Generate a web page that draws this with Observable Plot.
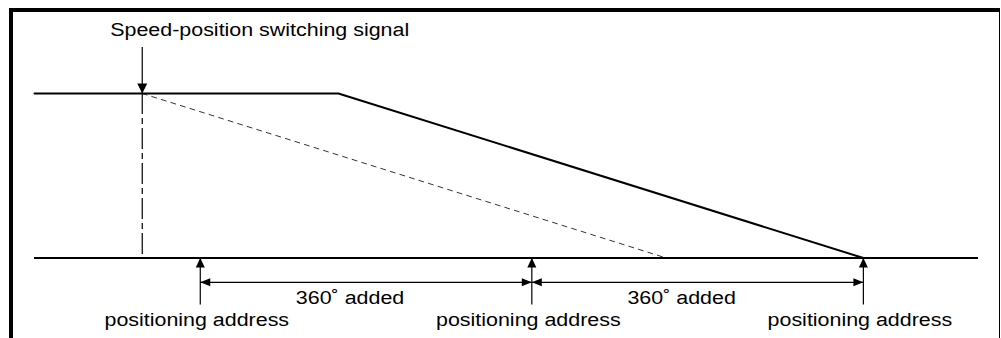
<!DOCTYPE html>
<html><head><meta charset="utf-8">
<script src="https://cdn.jsdelivr.net/npm/d3@7"></script>
<script src="https://cdn.jsdelivr.net/npm/@observablehq/plot@0.6"></script>
<style>
html,body{margin:0;padding:0;background:#fff;overflow:hidden;width:1001px;height:338px;}
#chart{position:absolute;left:0;top:0;}
#frame{position:absolute;left:9px;top:8px;width:991px;height:360px;box-sizing:border-box;border-top:4px solid #000;border-left:4px solid #000;border-right:1px solid #000;pointer-events:none;}
</style></head><body>
<div id="chart"></div><div id="frame"></div>
<script>
// ---- data (positions in degrees of travel, speed in %) ----
const addresses = [0, 360, 720];
const addressLabels = ["positioning address", "positioning address", "positioning address"];
const addedStarts = [0, 360];
const addedEnds = [360, 720];
const addedLabels = ["360\u02DA added", "360\u02DA added"];
const switchingPosition = [-63];
const switchingLabel = ["Speed-position switching signal"];
const profileX = [-180, 150, 720];
const profileSpeed = [100, 100, 0];
const directX = [-63, 506];
const directSpeed = [100, 0];
const positionDomain = [-180, 845];
const speedDomain = [0, 100];

// ---- tables built from the arrays ----
const profile = profileX.map((x, i) => ({x, y: profileSpeed[i]}));
const direct = directX.map((x, i) => ({x, y: directSpeed[i]}));
const spans = addedStarts.map((s, i) => ({s, e: addedEnds[i], label: addedLabels[i], mid: (s + addedEnds[i]) / 2}));
const addr = addresses.map((x, i) => ({x, label: addressLabels[i]}));

// annotation levels (in speed units, layout only)
const SIGNAL_TOP = 128, TITLE_Y = 134.7, DIM_Y = -14.8, ARROW_BOTTOM = -28.5, ADDED_Y = -27.7, LABEL_Y = -41.6;
const TOP = speedDomain[1];

// filled triangle heads with the tip at the anchor point
function head(dir, L = 10, W = 9) {
  return {draw(ctx) {
    ctx.moveTo(0, 0);
    if (dir === "up") { ctx.lineTo(-W / 2, L); ctx.lineTo(W / 2, L); }
    else if (dir === "down") { ctx.lineTo(-W / 2, -L); ctx.lineTo(W / 2, -L); }
    else if (dir === "left") { ctx.lineTo(L, -W / 2); ctx.lineTo(L, W / 2); }
    else { ctx.lineTo(-L, -W / 2); ctx.lineTo(-L, W / 2); }
    ctx.closePath();
  }};
}
const txt = {fontSize: 18, fill: "black", lineAnchor: "bottom"};

const plot = Plot.plot({
  width: 1001, height: 338,
  marginLeft: 34, marginRight: 23, marginTop: 93, marginBottom: 80.5,
  x: {domain: positionDomain, axis: null},
  y: {domain: speedDomain, axis: null},
  style: {fontFamily: "'Liberation Sans', Arial, sans-serif", background: "transparent"},
  marks: [
    Plot.ruleY([0], {stroke: "black", strokeWidth: 2}),
    Plot.line(profile, {x: "x", y: "y", stroke: "black", strokeWidth: 2}),
    Plot.line(direct, {x: "x", y: "y", stroke: "black", strokeWidth: 0.8, strokeDasharray: "5,5"}),
    Plot.ruleX(switchingPosition, {y1: TOP, y2: 0, stroke: "black", strokeWidth: 1.2, strokeDasharray: "21,4,6,4"}),
    Plot.ruleX(switchingPosition, {y1: SIGNAL_TOP, y2: TOP, stroke: "black", strokeWidth: 1.2}),
    Plot.dot(switchingPosition, {x: d => d, y: TOP, symbol: head("down", 10, 10), fill: "black", stroke: "none"}),
    Plot.ruleX(addresses, {y1: ARROW_BOTTOM, y2: 0, stroke: "black", strokeWidth: 1.2}),
    Plot.dot(addresses, {x: d => d, y: 0, symbol: head("up", 9.5, 9), fill: "black", stroke: "none"}),
    Plot.link(spans, {x1: "s", x2: "e", y1: DIM_Y, y2: DIM_Y, stroke: "black", strokeWidth: 1.2}),
    Plot.dot(spans, {x: "s", y: DIM_Y, symbol: head("left", 10, 8), fill: "black", stroke: "none"}),
    Plot.dot(spans, {x: "e", y: DIM_Y, symbol: head("right", 10, 8), fill: "black", stroke: "none"}),
    Plot.text(spans, {x: "mid", y: ADDED_Y, text: "label", dx: -16, textAnchor: "middle", ...txt}),
    Plot.text(addr, {x: "x", y: LABEL_Y, text: "label", dx: -3.5, textAnchor: "middle", ...txt}),
    Plot.text(switchingPosition, {x: d => d, y: TITLE_Y, text: (d, i) => switchingLabel[i], dx: -32, textAnchor: "start", ...txt})
  ]
});
document.getElementById("chart").append(plot);
// horizontal stretch of the lettering, as in the reference
const STRETCH = 1.19;
plot.querySelectorAll("text").forEach(t => {
  const w = t.getComputedTextLength();
  t.setAttribute("textLength", (w * STRETCH).toFixed(1));
  t.setAttribute("lengthAdjust", "spacingAndGlyphs");
});
</script>
</body></html>
